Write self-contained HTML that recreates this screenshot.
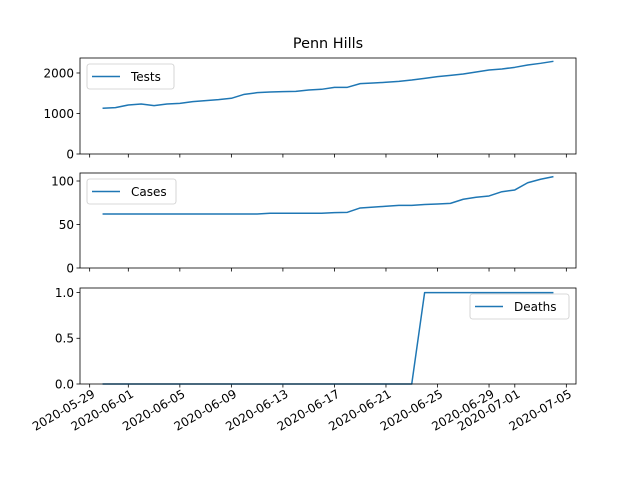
<!DOCTYPE html>
<html><head><meta charset="utf-8"><style>
body{margin:0;background:#fff}
svg{display:block;font-family:"DejaVu Sans","Liberation Sans",sans-serif}
</style></head><body>
<svg id="c" width="640" height="480" viewBox="0 0 640 480">
<rect width="640" height="480" fill="#fff"/>
<text x="328" y="48" font-size="14.4" text-anchor="middle">Penn Hills</text>
</svg>
<script>
const dayOffsets = [];
for (let i = 1; i <= 36; i++) dayOffsets.push(i);
const tests = [1128,1144,1210,1235,1193,1235,1251,1292,1317,1342,1375,1473,1514,1531,1539,1547,1580,1597,1646,1646,1737,1753,1770,1794,1827,1868,1909,1942,1975,2025,2074,2099,2140,2198,2239,2288];
const cases = [62,62,62,62,62,62,62,62,62,62,62,62,62,63,63,63,63,63,63.6,64,69,70,71,72,72,73,73.5,74.3,79,81.3,82.8,87.7,89.7,98,102,105];
const deaths = [0,0,0,0,0,0,0,0,0,0,0,0,0,0,0,0,0,0,0,0,0,0,0,0,0,1,1,1,1,1,1,1,1,1,1,1];
const tickDays = [0,3,7,11,15,19,23,27,31,33,37];
const tickLabels = ["2020-05-29","2020-06-01","2020-06-05","2020-06-09","2020-06-13","2020-06-17","2020-06-21","2020-06-25","2020-06-29","2020-07-01","2020-07-05"];
const testsTicks = [0,1000,2000], casesTicks = [0,50,100], deathsTicks = [0,0.5,1.0];
const deathsTickLabels = ["0.0","0.5","1.0"];

const svg = document.getElementById('c');
const NS = 'http://www.w3.org/2000/svg';
const X0 = 80, X1 = 576;
const dmin = 1 - 1.75, dmax = 36 + 1.75;
const xs = d => X0 + (d - dmin) / (dmax - dmin) * (X1 - X0);
function mk(tag, attrs, parent) {
  const e = document.createElementNS(NS, tag);
  for (const k in attrs) e.setAttribute(k, attrs[k]);
  (parent || svg).appendChild(e);
  return e;
}
function panel(name, top, bot, ymin, ymax, vals, yt, ytl, legendText, lw, legendRight) {
  const g = mk('g', {});
  
  
  const ys = v => bot - (v - ymin) / (ymax - ymin) * (bot - top);
  yt.forEach((t, i) => {
    const y = ys(t);
    mk('line', {x1: X0 - 3.5, x2: X0, y1: y, y2: y, stroke: '#000', 'stroke-width': 0.8}, g);
    const tx = mk('text', {x: X0 - 6, y: y + 4.3, 'font-size': 12, 'text-anchor': 'end'}, g);
    tx.textContent = ytl ? ytl[i] : String(t);
    
    
  });
  tickDays.forEach(d => {
    mk('line', {x1: xs(d), x2: xs(d), y1: bot, y2: bot + 3.5, stroke: '#000', 'stroke-width': 0.8}, g);
  });
  const pts = vals.map((v, i) => xs(dayOffsets[i]).toFixed(2) + ',' + ys(v).toFixed(2)).join(' ');
  const pl = mk('polyline', {points: pts, fill: 'none', stroke: '#1f77b4', 'stroke-width': 1.5, 'stroke-linejoin': 'round'}, g);
  
  
  mk('rect', {x: X0, y: top, width: X1 - X0, height: bot - top, fill: 'none', stroke: '#000', 'stroke-width': 0.8}, g);
  const lx = legendRight ? X1 - 7 - lw : X0 + 7;
  const ly = top + 6;
  const lg = mk('g', {}, g);
  
  
  mk('rect', {x: lx, y: ly, width: lw, height: 25, rx: 2.5, fill: '#fff', 'fill-opacity': 0.8, stroke: '#ccc', 'stroke-width': 0.8}, lg);
  mk('line', {x1: lx + 5, x2: lx + 33, y1: ly + 12.5, y2: ly + 12.5, stroke: '#1f77b4', 'stroke-width': 1.5}, lg);
  const lt = mk('text', {x: lx + 44, y: ly + 17, 'font-size': 12}, lg);
  lt.textContent = legendText;
}
panel('tests', 58, 154, 0, 2370, tests, testsTicks, null, 'Tests', 87, false);
panel('cases', 173, 268, 0, 109.2, cases, casesTicks, null, 'Cases', 89, false);
panel('deaths', 288, 384, 0, 1.05, deaths, deathsTicks, deathsTickLabels, 'Deaths', 99, true);
tickDays.forEach((d, i) => {
  const x = xs(d) + 2, y = 389;
  const t = mk('text', {x: x, y: y, 'font-size': 12, 'text-anchor': 'end', transform: 'rotate(-30 ' + x + ' ' + y + ')', dy: '0.7em'});
  t.textContent = tickLabels[i];
  
  
});
</script>
</body></html>
